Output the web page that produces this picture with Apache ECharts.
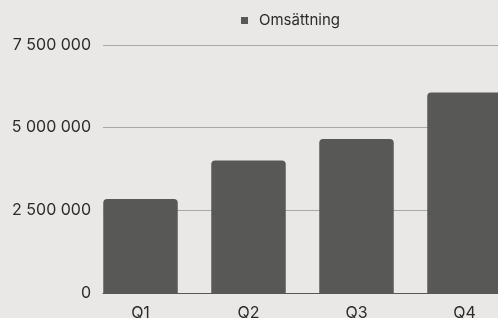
<!DOCTYPE html>
<html>
<head>
<meta charset="utf-8">
<script src="https://cdn.jsdelivr.net/npm/echarts@6/dist/echarts.min.js"></script>
<style>
  html, body { margin: 0; padding: 0; background: #e9e8e6; }
  #chart { width: 498px; height: 318px; }
</style>
</head>
<body>
<div id="chart"></div>
<script>
const categories = ["Q1", "Q2", "Q3", "Q4"];
const seriesName = "Omsättning";
const revenue = [2840000, 4010000, 4660000, 6060000];
const yTicks = [0, 2500000, 5000000, 7500000];

const FONT = "Inter";
const barColor = "#585856";
const textColor = "#2b2b2b";

// mellanslag som tusentalsavgränsare
const fmt = (v) => String(v).replace(/\B(?=(\d{3})+(?!\d))/g, " ");

const chart = echarts.init(document.getElementById("chart"), null, { renderer: "canvas" });

chart.setOption({
  backgroundColor: "#e9e8e6",
  animation: false,
  textStyle: { fontFamily: FONT },
  legend: {
    data: [seriesName],
    top: 8,
    left: 236,
    icon: "rect",
    itemWidth: 7,
    itemHeight: 7,
    textStyle: { color: textColor, fontSize: 15, fontFamily: FONT, padding: [0, 0, 0, 6] },
  },
  grid: [
    // rutnät och y-axel
    { left: 103, right: 0, top: 45, bottom: 25, outerBoundsMode: "none" },
    // staplar och kategorietiketter, bredare än fönstret
    { left: 86.5, width: 432, top: 45, bottom: 25, outerBoundsMode: "none" },
  ],
  xAxis: [
    {
      gridIndex: 0,
      type: "value",
      min: 0,
      max: 1,
      axisLabel: { show: false },
      axisTick: { show: false },
      splitLine: { show: false },
      axisLine: { show: true, onZero: false, lineStyle: { color: barColor, width: 1 } },
    },
    {
      gridIndex: 1,
      type: "category",
      data: categories,
      axisLine: { show: false },
      axisTick: { show: false },
      axisLabel: { color: textColor, fontSize: 16, margin: 12, fontFamily: FONT },
    },
  ],
  yAxis: [
    {
      gridIndex: 0,
      type: "value",
      min: yTicks[0],
      max: yTicks[yTicks.length - 1],
      interval: yTicks[1] - yTicks[0],
      axisLine: { show: false },
      axisTick: { show: false },
      axisLabel: { color: textColor, fontSize: 16, margin: 12, fontFamily: FONT, formatter: fmt },
      splitLine: { lineStyle: { color: "#a9a8a6", width: 1 } },
    },
    {
      gridIndex: 1,
      type: "value",
      min: yTicks[0],
      max: yTicks[yTicks.length - 1],
      show: false,
    },
  ],
  series: [
    {
      name: seriesName,
      type: "bar",
      xAxisIndex: 1,
      yAxisIndex: 1,
      data: revenue,
      barWidth: 74.5,
      itemStyle: { color: barColor, borderRadius: [4, 4, 0, 0] },
    },
  ],
});
</script>
</body>
</html>
